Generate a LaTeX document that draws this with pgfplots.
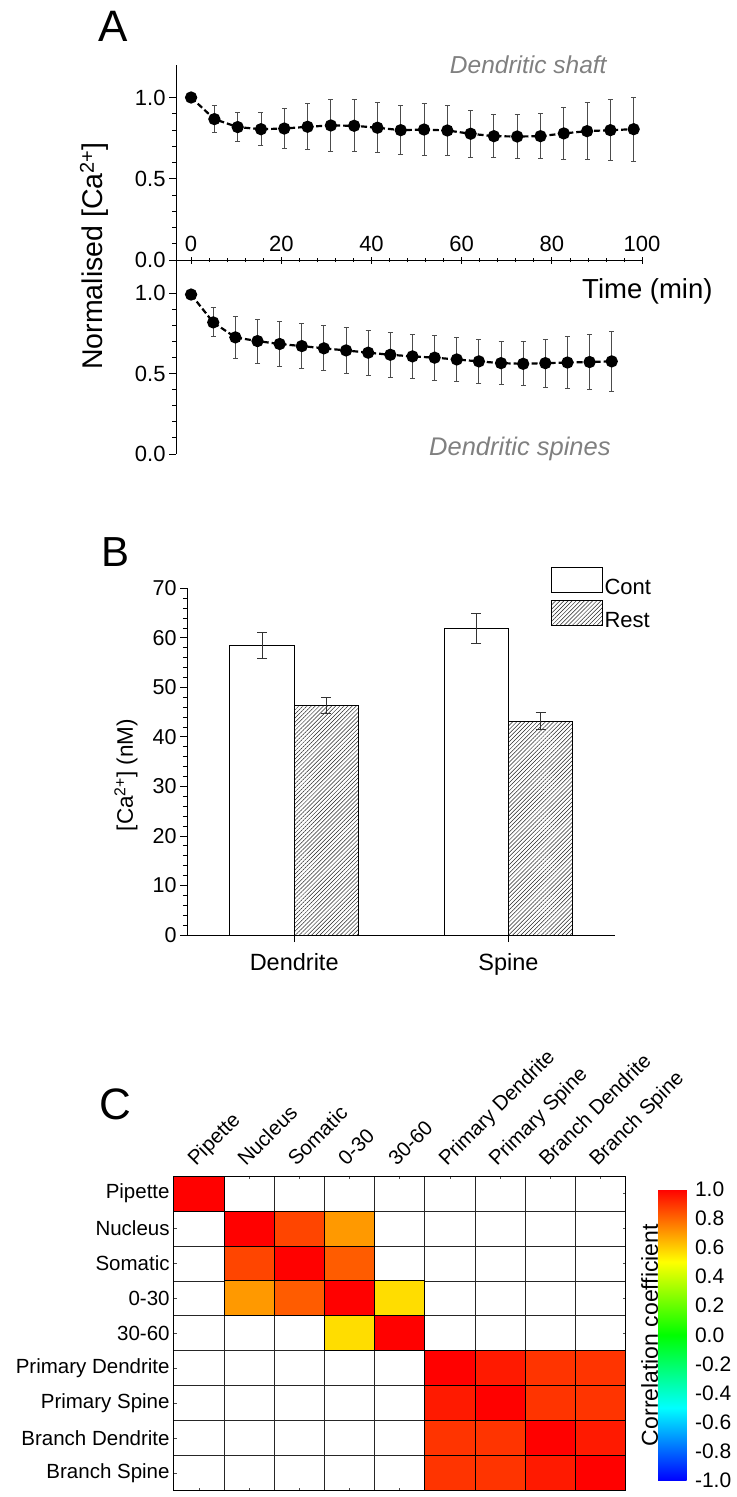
\documentclass[border=0pt]{standalone}
\usepackage{fontspec}
\setmainfont{Liberation Sans}
\usepackage{pgfplots}
\usepackage{pgfplotstable}
\pgfplotsset{compat=1.18}
\usetikzlibrary{patterns.meta}
\newcommand\fs[1]{\fontsize{#1pt}{#1pt}\selectfont}
\definecolor{lblgray}{RGB}{128,128,128}
\pgfdeclareplotmark{cell}{\pgfpathrectangle{\pgfpoint{-25.1pt}{-17.5pt}}{\pgfpoint{50.2pt}{35pt}}\pgfusepathqfillstroke}

\pgfplotstableread{
t v e
0 1.000 0
5.165 0.867 0.085
10.33 0.818 0.090
15.495 0.805 0.102
20.66 0.809 0.123
25.825 0.820 0.141
30.99 0.828 0.157
36.155 0.826 0.160
41.32 0.814 0.155
46.485 0.799 0.152
51.65 0.803 0.158
56.815 0.797 0.156
61.98 0.777 0.143
67.145 0.762 0.132
72.31 0.760 0.134
77.475 0.762 0.140
82.64 0.779 0.159
87.805 0.793 0.176
92.97 0.799 0.187
98.135 0.805 0.197
}\shaft

\pgfplotstableread{
t v e
0 0.990 0
4.909 0.817 0.090
9.818 0.724 0.132
14.727 0.701 0.137
19.636 0.683 0.141
24.545 0.670 0.140
29.454 0.656 0.140
34.363 0.643 0.140
39.272 0.629 0.140
44.181 0.616 0.141
49.09 0.606 0.139
53.999 0.598 0.139
58.908 0.587 0.137
63.817 0.575 0.136
68.726 0.564 0.135
73.635 0.560 0.136
78.544 0.564 0.148
83.453 0.568 0.160
88.362 0.571 0.172
93.271 0.575 0.185
}\spines

\pgfplotstableread{
x y c
1 9 1
2 8 1
3 8 0.865
4 8 0.70
2 7 0.865
3 7 1
4 7 0.82
2 6 0.70
3 6 0.82
4 6 1
5 6 0.567
4 5 0.567
5 5 1
6 4 1
7 4 0.95
8 4 0.90
9 4 0.90
6 3 0.95
7 3 1
8 3 0.90
9 3 0.90
6 2 0.90
7 2 0.90
8 2 1
9 2 0.95
6 1 0.90
7 1 0.90
8 1 0.95
9 1 1
}\corr

\pgfplotsset{
  panelA/.style={
    scale only axis, width=466pt, xmin=-3.33, xmax=100, ymin=0, ymax=1.2,
    ytick={0,0.5,1}, minor y tick num=4,
    yticklabel style={/pgf/number format/.cd, fixed, fixed zerofill, precision=1},
    tick label style={font=\fs{22}},
    tick style={line width=0.8pt, black},
    ytick align=outside, major tick length=7pt, minor tick length=4pt,
    clip=false,
  },
  dataA/.style={
    black, line width=2.2pt, dash pattern=on 6pt off 3pt,
    mark=*, mark size=5pt, mark options={solid, fill=black},
    error bars/.cd, y dir=both, y explicit,
    error bar style={solid, line width=0.9pt, black!70},
    error mark options={rotate=90, mark size=2.5pt, line width=0.9pt, black!70, solid},
  },
  boxlegend/.style={legend image code/.code={\draw[##1] (0pt,-4.6pt) rectangle (50.7pt,20.2pt);}},
}

\begin{document}
\pgfkeys{/pgf/number format/assume math mode=true}
\begin{tikzpicture}
\path[use as bounding box] (0,0) rectangle (734pt,-1497pt);

% ---------------- Panel A top
\begin{axis}[panelA, at={(173.3pt,-65pt)}, anchor=north west, height=195pt,
  axis x line*=bottom, axis y line*=left,
  axis line style={line width=0.9pt, -},
  xtick={0,20,...,100}, minor x tick num=4, xtick align=center,
  xticklabel style={anchor=south, inner sep=0pt, yshift=12pt},
]
\addplot[dataA] table[x=t, y=v, y error=e] {\shaft};
\end{axis}

% ---------------- Panel A bottom
\begin{axis}[panelA, at={(173.3pt,-260.7pt)}, anchor=north west, height=193.3pt,
  axis x line=none, axis y line*=left, xtick=\empty,
  axis line style={line width=0.9pt, -},
]
\addplot[dataA] table[x=t, y=v, y error=e] {\spines};
\end{axis}

\node[font=\fs{44}, anchor=base, inner sep=0pt] at (110pt,-41.7pt) {A};
\node[font=\fs{24.5}\itshape, text=lblgray, anchor=base east, inner sep=0pt] at (604pt,-73.3pt) {Dendritic shaft};
\node[font=\fs{25.5}\itshape, text=lblgray, anchor=base east, inner sep=0pt] at (608pt,-455pt) {Dendritic spines};
\node[font=\fs{27.5}, anchor=base east, inner sep=0pt] at (710pt,-298.3pt) {Time (min)};
\node[font=\fs{28.5}, rotate=90, anchor=base, inner sep=0pt] at (100pt,-256pt) {Normalised [Ca\textsuperscript{2+}]};

% ---------------- Panel B
\begin{axis}[at={(184.3pt,-588.3pt)}, anchor=north west, scale only axis,
  width=428.4pt, height=346.7pt, xmin=0.5, xmax=2.5, ymin=0, ymax=70,
  axis x line*=bottom, axis y line*=left,
  axis line style={line width=0.9pt, -},
  ybar=0pt, bar width=64.3pt,
  xtick={1,2}, xticklabels={Dendrite,Spine},
  ytick={0,10,...,70}, minor y tick num=4,
  tick align=outside, major tick length=7pt, minor tick length=4.3pt,
  tick style={line width=0.8pt, black},
  yticklabel style={font=\fs{21.5}},
  xticklabel style={font=\fs{23.5}, yshift=-8pt},
  legend style={draw=none, fill=none, at={(0.8497,1.0606)}, anchor=north west,
    inner sep=0pt, outer sep=0pt, row sep=4pt, font=\fs{22},
    nodes={inner sep=0pt}, column sep=2pt},
  legend cell align=left,
]
\addplot[draw=black, fill=white, line width=0.8pt, boxlegend,
  error bars/.cd, y dir=both, y explicit,
  error bar style={line width=0.9pt, black!80},
  error mark options={rotate=90, mark size=5pt, line width=0.9pt, black!80}]
  coordinates {(1,58.4) +- (0,2.6) (2,61.9) +- (0,3.0)};
\addlegendentry{Cont}
\addplot[draw=black, line width=0.8pt, boxlegend,
  pattern={Lines[angle=45, distance=2.9pt, line width=0.5pt]}, pattern color=black!85,
  error bars/.cd, y dir=both, y explicit,
  error bar style={line width=0.9pt, black!80},
  error mark options={rotate=90, mark size=5pt, line width=0.9pt, black!80}]
  coordinates {(1,46.4) +- (0,1.6) (2,43.2) +- (0,1.7)};
\addlegendentry{Rest}
\end{axis}

\node[font=\fs{42}, anchor=base, inner sep=0pt] at (113pt,-566.7pt) {B};
\node[font=\fs{22.5}, rotate=90, anchor=base, inner sep=0pt] at (130pt,-775pt) {[Ca\textsuperscript{2+}] (nM)};

% ---------------- Panel C
\begin{axis}[at={(171pt,-1176pt)}, anchor=north west, scale only axis,
  width=451.8pt, height=314.7pt, xmin=0.5, xmax=9.5, ymin=0.5, ymax=9.5,
  xtick={1,...,9}, ytick={1,...,9},
  xticklabels={Pipette,Nucleus,Somatic,0-30,30-60,Primary Dendrite,Primary Spine,Branch Dendrite,Branch Spine},
  yticklabels={Branch Spine,Branch Dendrite,Primary Spine,Primary Dendrite,30-60,0-30,Somatic,Nucleus,Pipette},
  xticklabel pos=upper,
  minor xtick={1.5,2.5,...,8.5}, minor ytick={1.5,2.5,...,8.5},
  grid=minor, minor grid style={black!85, line width=0.8pt},
  tick align=inside, major tick length=3pt, minor tick length=0pt,
  tick style={line width=0.6pt, black!70},
  axis line style={line width=0.9pt, black},
  tick label style={font=\fs{20.5}},
  xticklabel style={xshift=-3pt, yshift=9pt, rotate=45, anchor=base west, inner sep=0pt},
  yticklabel style={anchor=east, inner sep=0pt, xshift=-4pt},
  point meta min=-1, point meta max=1,
  colormap={corr}{rgb255=(0,0,255) rgb255=(0,255,255) rgb255=(0,255,0) rgb255=(255,255,0) rgb255=(255,0,0)},
  colorbar, colorbar/width=28.7pt,
  colorbar style={at={(parent axis.north east)}, anchor=north west,
    xshift=23.9pt, yshift=-13pt, height=291.7pt, scale only axis,
    axis line style={draw=none}, major tick length=0pt,
    ytick={-1,-0.8,-0.6,-0.4,-0.2,0,0.2,0.4,0.6,0.8,1},
    yticklabel style={font=\fs{21}, anchor=west, inner sep=0pt, xshift=8.1pt,
      /pgf/number format/.cd, fixed, fixed zerofill, precision=1}},
]
\addplot[scatter, only marks, mark=cell, point meta=explicit,
  scatter/use mapped color={draw=black, fill=mapped color}, mark options={line width=0.8pt}]
  table[x=x, y=y, meta=c] {\corr};
\end{axis}

\node[font=\fs{44}, anchor=base, inner sep=0pt] at (113pt,-1119pt) {C};
\node[font=\fs{23}, rotate=90, anchor=base, inner sep=0pt] at (655pt,-1335pt) {Correlation coefficient};

\end{tikzpicture}
\end{document}
